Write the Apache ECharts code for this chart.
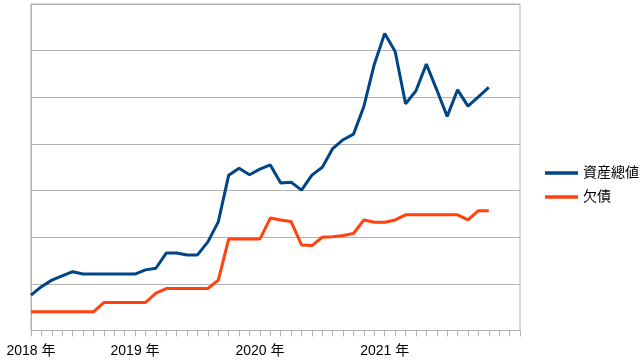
<!DOCTYPE html>
<html>
<head>
<meta charset="utf-8">
<script src="https://cdn.jsdelivr.net/npm/echarts@6/dist/echarts.min.js"></script>
<style>
html,body{margin:0;padding:0;background:#fff;}
#chart{width:643px;height:364px;}
</style>
</head>
<body>
<div id="chart"></div>
<script>
// Monthly categories (March 2018 to February 2022)
const months = [
  "2018-03","2018-04","2018-05","2018-06","2018-07","2018-08","2018-09","2018-10","2018-11","2018-12",
  "2019-01","2019-02","2019-03","2019-04","2019-05","2019-06","2019-07","2019-08","2019-09","2019-10","2019-11","2019-12",
  "2020-01","2020-02","2020-03","2020-04","2020-05","2020-06","2020-07","2020-08","2020-09","2020-10","2020-11","2020-12",
  "2021-01","2021-02","2021-03","2021-04","2021-05","2021-06","2021-07","2021-08","2021-09","2021-10","2021-11","2021-12",
  "2022-01","2022-02"
];
// Tick labels shown at these categories
const tickMonths = ["2018-03","2019-01","2020-01","2021-01"];
const tickLabels = ["2018 年","2019 年","2020 年","2021 年"];

const seriesNames = ["資産總値","欠債"];
const totalAssets = [
  0.76,0.94,1.08,1.17,1.26,1.21,1.21,1.21,1.21,1.21,
  1.21,1.30,1.335,1.66,1.66,1.62,1.62,1.90,2.33,3.33,
  3.48,3.34,3.46,3.55,3.16,3.18,3.01,3.33,3.50,3.90,
  4.09,4.21,4.81,5.71,6.37,5.98,4.86,5.14,5.71,5.16,
  4.59,5.16,4.81,5.01,5.21
];
const debt = [
  0.40,0.40,0.40,0.40,0.40,0.40,0.40,0.60,0.60,0.60,
  0.60,0.60,0.80,0.90,0.90,0.90,0.90,0.90,1.08,1.96,
  1.96,1.96,1.96,2.41,2.37,2.335,1.835,1.82,2.00,2.01,
  2.035,2.08,2.37,2.32,2.32,2.37,2.48,2.48,2.48,2.48,
  2.48,2.48,2.37,2.57,2.57
];

const font = '"Liberation Sans","Noto Sans CJK JP",sans-serif';
const grey = '#b3b3b3';

const chart = echarts.init(document.getElementById('chart'), null, {renderer:'canvas'});
chart.setOption({
  animation:false,
  backgroundColor:'#fff',
  textStyle:{fontFamily:font},
  grid:{left:31,top:4,width:489,height:326.5,show:true,borderColor:grey,borderWidth:1,backgroundColor:'transparent'},
  legend:{
    orient:'vertical',left:540,top:159,
    icon:'rect',itemWidth:33,itemHeight:3.5,itemGap:6,
    textStyle:{fontFamily:font,fontSize:14,lineHeight:18,color:'#000'},
    data:seriesNames
  },
  xAxis:{
    type:'category',data:months,boundaryGap:false,
    axisLine:{show:true,lineStyle:{color:grey,width:1}},
    axisTick:{show:true,interval:0,length:6,lineStyle:{color:grey}},
    axisLabel:{
      interval:(i,v)=>tickMonths.indexOf(v)>=0,
      formatter:(v)=>{const k=tickMonths.indexOf(v);return k>=0?tickLabels[k]:'';},
      margin:14,fontSize:14,color:'#000',fontFamily:font
    },
    splitLine:{show:false}
  },
  yAxis:{
    type:'value',min:0,max:7,interval:1,
    axisLine:{show:true,lineStyle:{color:grey}},
    axisTick:{show:false},
    axisLabel:{show:false},
    splitLine:{show:true,lineStyle:{color:grey,width:1}}
  },
  series:[
    {name:seriesNames[0],type:'line',data:totalAssets,showSymbol:false,symbol:'none',
     lineStyle:{color:'#004586',width:3},itemStyle:{color:'#004586'}},
    {name:seriesNames[1],type:'line',data:debt,showSymbol:false,symbol:'none',
     lineStyle:{color:'#ff420e',width:3},itemStyle:{color:'#ff420e'}}
  ]
});
</script>
</body>
</html>
